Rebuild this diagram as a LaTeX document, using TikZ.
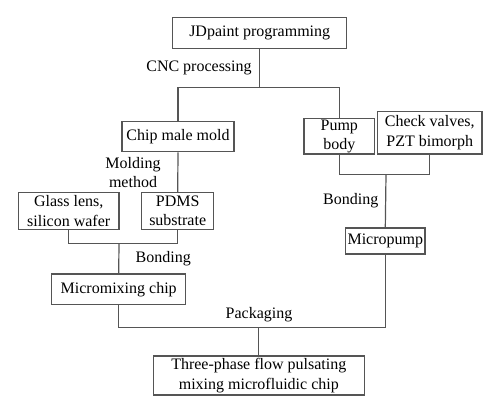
\documentclass[tikz,border=0pt]{standalone}
\usepackage{fontspec}
\setmainfont{Liberation Serif}
\usepackage{xcolor}

\tikzset{
  procbox/.style={draw={rgb, 255:red, 85; green, 85; blue, 85 }, line width=0.9pt, inner sep=0.75pt, align=center, font=\fontsize{12}{14.5}\selectfont},
  steplabel/.style={inner sep=0.75pt, align=center, font=\fontsize{12}{14.5}\selectfont},
  link/.style={draw={rgb, 255:red, 85; green, 85; blue, 85 }, line width=0.9pt}
}

\begin{document}
\begin{tikzpicture}[x=0.75pt,y=0.75pt,yscale=-1,xscale=1]
    \useasboundingbox (0,0) rectangle (500,413);

    %Shape: Rectangle [id:jdpaint]
    \node (jd) at (259.7,33) [procbox, minimum width=130.5pt, minimum height=23pt] {JDpaint programming};
    %Shape: Rectangle [id:malemold]
    \node (cmm) at (178,136.7) [procbox, minimum width=84pt, minimum height=22.5pt] {Chip male mold};
    %Shape: Rectangle [id:pumpbody]
    \node (pump) at (339.3,136.2) [procbox, minimum width=53pt, minimum height=26.8pt] {Pump\\body};
    %Shape: Rectangle [id:checkvalves]
    \node (check) at (429.7,132.8) [procbox, minimum width=78.5pt, minimum height=31.7pt] {Check valves,\\PZT bimorph};
    %Shape: Rectangle [id:glass]
    \node (glass) at (68.7,211) [procbox, minimum width=75.5pt, minimum height=27.5pt] {Glass lens,\\silicon wafer};
    %Shape: Rectangle [id:pdms]
    \node (pdms) at (177.7,211) [procbox, minimum width=54pt, minimum height=27.5pt] {PDMS\\substrate};
    %Shape: Rectangle [id:micromixing]
    \node (mmc) at (118.7,289.2) [procbox, minimum width=100.5pt, minimum height=22.7pt] {Micromixing chip};
    %Shape: Rectangle [id:micropump]
    \node (mpump) at (385.3,241) [procbox, minimum width=59.5pt, minimum height=19.5pt] {Micropump};
    %Shape: Rectangle [id:final]
    \node (chip) at (258.8,375.5) [procbox, minimum width=158pt, minimum height=29.3pt] {Three-phase flow pulsating\\mixing microfluidic chip};

    %Junctions
    \coordinate (cnc) at (259.7,87.7);
    \coordinate (pumpjoin) at (386,174.7);
    \coordinate (moldjoin) at (119,243.3);
    \coordinate (packjoin) at (258.8,327.7);

    %Connectors
    \draw [link] (jd.south) -- (cnc);
    \draw [link] (cmm.north) |- (cnc) -| (pump.north);
    \draw [link] (cmm.south) -- (pdms.north);
    \draw [link] (pump.south) |- (pumpjoin) -| (check.south);
    \draw [link] (pumpjoin) -- (mpump.north);
    \draw [link] (glass.south) |- (moldjoin) -| (pdms.south);
    \draw [link] (moldjoin) -- (mmc.north);
    \draw [link] (mmc.south) |- (packjoin) -| (mpump.south);
    \draw [link] (packjoin) -- (chip.north);

    % Text Node
    \node (cnclabel) at (199,68) [steplabel] {CNC processing};
    % Text Node
    \node (moldlabel) at (133,172.5) [steplabel] {Molding\\method};
    % Text Node
    \node (bondright) at (350.7,200.7) [steplabel] {Bonding};
    % Text Node
    \node (bondleft) at (163.3,258.3) [steplabel] {Bonding};
    % Text Node
    \node (packlabel) at (259,314.3) [steplabel] {Packaging};

\end{tikzpicture}
\end{document}
